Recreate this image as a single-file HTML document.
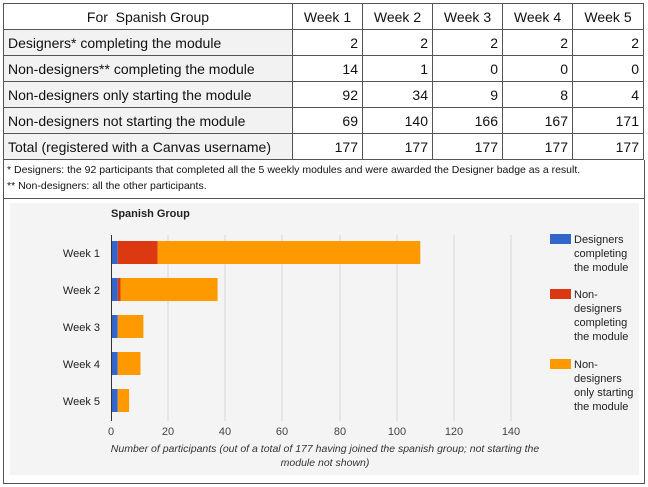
<!DOCTYPE html>
<html><head><meta charset="utf-8"><style>
body{margin:0;width:648px;height:487px;background:#fff;font-family:"Liberation Sans",sans-serif;position:relative;overflow:hidden}
table{position:absolute;left:3px;top:3px;border-collapse:collapse;font-size:14px;color:#111;table-layout:fixed;width:640px}
td{border:1px solid #555;height:25px;padding:0 4px;white-space:nowrap;overflow:hidden}
td.n{text-align:right}
tr.h td{text-align:center;background:#fff}
tr:not(.h) td:first-child{background:#f2f2f2}
.foot{position:absolute;left:3px;top:160px;width:640px;height:38px;border:1px solid #555;border-top:none;font-size:10.5px;color:#111}
.outer{position:absolute;left:3px;top:198px;width:640px;height:285px;border:1px solid #555;border-top:none}
</style></head><body>
<table>
<colgroup><col style="width:289px"><col style="width:70px"><col style="width:70px"><col style="width:70px"><col style="width:70px"><col style="width:71px"></colgroup>
<tr class="h"><td>For &nbsp;Spanish Group</td><td>Week 1</td><td>Week 2</td><td>Week 3</td><td>Week 4</td><td>Week 5</td></tr>
<tr><td>Designers* completing the module</td><td class="n">2</td><td class="n">2</td><td class="n">2</td><td class="n">2</td><td class="n">2</td></tr>
<tr><td>Non-designers** completing the module</td><td class="n">14</td><td class="n">1</td><td class="n">0</td><td class="n">0</td><td class="n">0</td></tr>
<tr><td>Non-designers only starting the module</td><td class="n">92</td><td class="n">34</td><td class="n">9</td><td class="n">8</td><td class="n">4</td></tr>
<tr><td>Non-designers not starting the module</td><td class="n">69</td><td class="n">140</td><td class="n">166</td><td class="n">167</td><td class="n">171</td></tr>
<tr><td>Total (registered with a Canvas username)</td><td class="n">177</td><td class="n">177</td><td class="n">177</td><td class="n">177</td><td class="n">177</td></tr>
</table>
<div class="foot"><div style="position:absolute;left:3px;top:4px">* Designers: the 92 participants that completed all the 5 weekly modules and were awarded the Designer badge as a result.</div><div style="position:absolute;left:3px;top:20px">** Non-designers: all the other participants.</div></div>
<div class="outer"></div>
<svg style="position:absolute;left:0;top:0" width="648" height="487" font-family="Liberation Sans, sans-serif">
<rect x="10" y="203" width="629" height="272" fill="#f4f4f4"/>
<text x="111" y="217" font-size="11" font-weight="bold" fill="#222">Spanish Group</text>
<g stroke="#d8d8d8" stroke-width="1">
<line x1="168" y1="235" x2="168" y2="421"/><line x1="225" y1="235" x2="225" y2="421"/><line x1="282" y1="235" x2="282" y2="421"/><line x1="340" y1="235" x2="340" y2="421"/><line x1="397" y1="235" x2="397" y2="421"/><line x1="454" y1="235" x2="454" y2="421"/><line x1="511" y1="235" x2="511" y2="421"/>
</g>
<line x1="111.5" y1="235" x2="111.5" y2="421" stroke="#333"/>
<g>
<rect x="112" y="241" width="5.7" height="23" fill="#3366cc"/><rect x="117.7" y="241" width="40" height="23" fill="#dc3912"/><rect x="157.7" y="241" width="262.6" height="23" fill="#ff9900"/>
<rect x="112" y="278" width="5.7" height="23" fill="#3366cc"/><rect x="117.7" y="278" width="2.9" height="23" fill="#dc3912"/><rect x="120.6" y="278" width="97" height="23" fill="#ff9900"/>
<rect x="112" y="315" width="5.7" height="23" fill="#3366cc"/><rect x="117.7" y="315" width="25.7" height="23" fill="#ff9900"/>
<rect x="112" y="352" width="5.7" height="23" fill="#3366cc"/><rect x="117.7" y="352" width="22.8" height="23" fill="#ff9900"/>
<rect x="112" y="389" width="5.7" height="23" fill="#3366cc"/><rect x="117.7" y="389" width="11.4" height="23" fill="#ff9900"/>
</g>
<g font-size="11" fill="#222" text-anchor="end">
<text x="100" y="257">Week 1</text><text x="100" y="294">Week 2</text><text x="100" y="331">Week 3</text><text x="100" y="368">Week 4</text><text x="100" y="405">Week 5</text>
</g>
<g font-size="11" fill="#444" text-anchor="middle">
<text x="111" y="435">0</text><text x="168" y="435">20</text><text x="225" y="435">40</text><text x="282" y="435">60</text><text x="340" y="435">80</text><text x="397" y="435">100</text><text x="454" y="435">120</text><text x="511" y="435">140</text>
</g>
<g font-size="10.5" fill="#333" font-style="italic" text-anchor="middle">
<text x="325" y="452">Number of participants (out of a total of 177 having joined the spanish group; not starting the</text>
<text x="325" y="466">module not shown)</text>
</g>
<rect x="550" y="234" width="21" height="10" fill="#3366cc"/>
<rect x="550" y="289" width="21" height="10" fill="#dc3912"/>
<rect x="550" y="359" width="21" height="10" fill="#ff9900"/>
<g font-size="11" fill="#222">
<text x="574" y="243">Designers</text><text x="574" y="257">completing</text><text x="574" y="271">the module</text>
<text x="574" y="298">Non-</text><text x="574" y="312">designers</text><text x="574" y="326">completing</text><text x="574" y="340">the module</text>
<text x="574" y="368">Non-</text><text x="574" y="382">designers</text><text x="574" y="396">only starting</text><text x="574" y="410">the module</text>
</g>
</svg>
</body></html>
